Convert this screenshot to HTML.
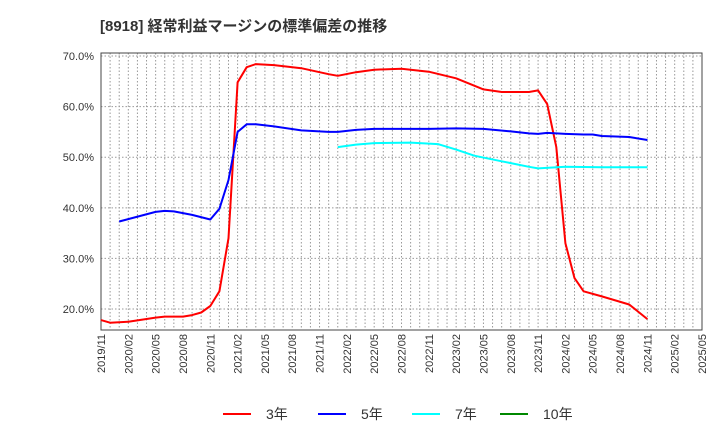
<!DOCTYPE html>
<html><head><meta charset="utf-8"><style>
body{margin:0;background:#fff;font-family:"Liberation Sans","Noto Sans CJK JP",sans-serif;}
</style></head><body>
<svg id="chart" width="720" height="440" xmlns="http://www.w3.org/2000/svg">
<text x="100" y="31" font-size="15" font-weight="bold" fill="#333" font-family="Liberation Sans, Noto Sans CJK JP, sans-serif">[8918]  経常利益マージンの標準偏差の推移</text>
<g id="grid"></g><g id="axes"></g><g id="series"></g><g id="legend"></g>
</svg>
<script>
const xTickLabels=["2019/11","2020/02","2020/05","2020/08","2020/11","2021/02","2021/05","2021/08","2021/11","2022/02","2022/05","2022/08","2022/11","2023/02","2023/05","2023/08","2023/11","2024/02","2024/05","2024/08","2024/11","2025/02","2025/05"];
const yTicks=[20,30,40,50,60,70];
const red3Idx=[0,1,3,6,7,9,10,11,12,13,14,15,16,17,19,22,25,26,28,30,33,36,39,42,44,45,47,48,49,50,51,52,53,55,58,60];
const red3Val=[17.8,17.3,17.5,18.3,18.5,18.5,18.8,19.3,20.6,23.5,34,64.8,67.8,68.4,68.2,67.6,66.4,66.1,66.8,67.3,67.5,66.9,65.6,63.4,62.9,62.9,62.9,63.2,60.5,52,33,26.1,23.5,22.5,20.9,18];
const blue5Idx=[2,6,7,8,10,12,13,14,15,16,17,19,22,25,26,28,30,33,36,39,42,45,47,48,49,51,53,54,55,58,60];
const blue5Val=[37.3,39.2,39.4,39.3,38.6,37.7,39.8,45.5,55,56.5,56.5,56.1,55.3,55,55,55.4,55.6,55.6,55.6,55.7,55.6,55.1,54.7,54.6,54.8,54.6,54.5,54.5,54.2,54,53.4];
const cyan7Idx=[26,28,30,34,37,39,41,44,47,48,51,55,60];
const cyan7Val=[52.0,52.5,52.8,52.9,52.6,51.5,50.3,49.2,48.1,47.8,48.1,48,48];
const L=101,R=702,T=53,B=330,NM=66,YMIN=15.85,YMAX=70.6;
const xs=i=>L+(R-L)*i/NM, ys=v=>B-(B-T)*(v-YMIN)/(YMAX-YMIN);
const NS="http://www.w3.org/2000/svg";
function mk(tag,attrs,parent){const e=document.createElementNS(NS,tag);for(const k in attrs)e.setAttribute(k,attrs[k]);parent.appendChild(e);return e;}
const grid=document.getElementById('grid'),axes=document.getElementById('axes'),ser=document.getElementById('series'),leg=document.getElementById('legend');
for(let m=1;m<NM;m++){const l=mk('line',{x1:xs(m),x2:xs(m),y1:T,y2:B,stroke:'#999','stroke-dasharray':'1.5,2','stroke-width':1},grid);

}
yTicks.forEach(v=>{const l=mk('line',{x1:L,x2:R,y1:ys(v),y2:ys(v),stroke:'#999','stroke-dasharray':'1.5,2','stroke-width':1},grid);


const t=mk('text',{x:94,y:ys(v)+4,'text-anchor':'end','font-size':11,fill:'#333'},axes);t.textContent=v.toFixed(1)+'%';

});
const frame=mk('rect',{x:L,y:T,width:R-L,height:B-T,fill:'none',stroke:'#444','stroke-width':1},axes);


xTickLabels.forEach((s,i)=>{const x=xs(i*3);const t=mk('text',{x:0,y:0,'text-anchor':'end','font-size':11,fill:'#333',transform:`translate(${x+4},${B+4}) rotate(-90)`},axes);t.textContent=s;

});
function line(idx,val,color,name){const d=idx.map((i,k)=>(k?'L':'M')+xs(i).toFixed(1)+','+ys(val[k]).toFixed(1)).join('');
const p=mk('path',{d:d,fill:'none',stroke:color,'stroke-width':2,'stroke-linejoin':'round'},ser);

}
line(red3Idx,red3Val,'#f00','series-3yr');
line(blue5Idx,blue5Val,'#00f','series-5yr');
line(cyan7Idx,cyan7Val,'#0ff','series-7yr');
const legItems=[['3年','#f00',223],['5年','#00f',318],['7年','#0ff',412],['10年','#080',500]];
legItems.forEach(([s,c,x])=>{const g=mk('g',{},leg);


mk('line',{x1:x,x2:x+28,y1:414,y2:414,stroke:c,'stroke-width':2},g);
const t=mk('text',{x:x+43,y:419,'font-size':14,fill:'#333'},g);t.textContent=s;});
</script>
</body></html>
